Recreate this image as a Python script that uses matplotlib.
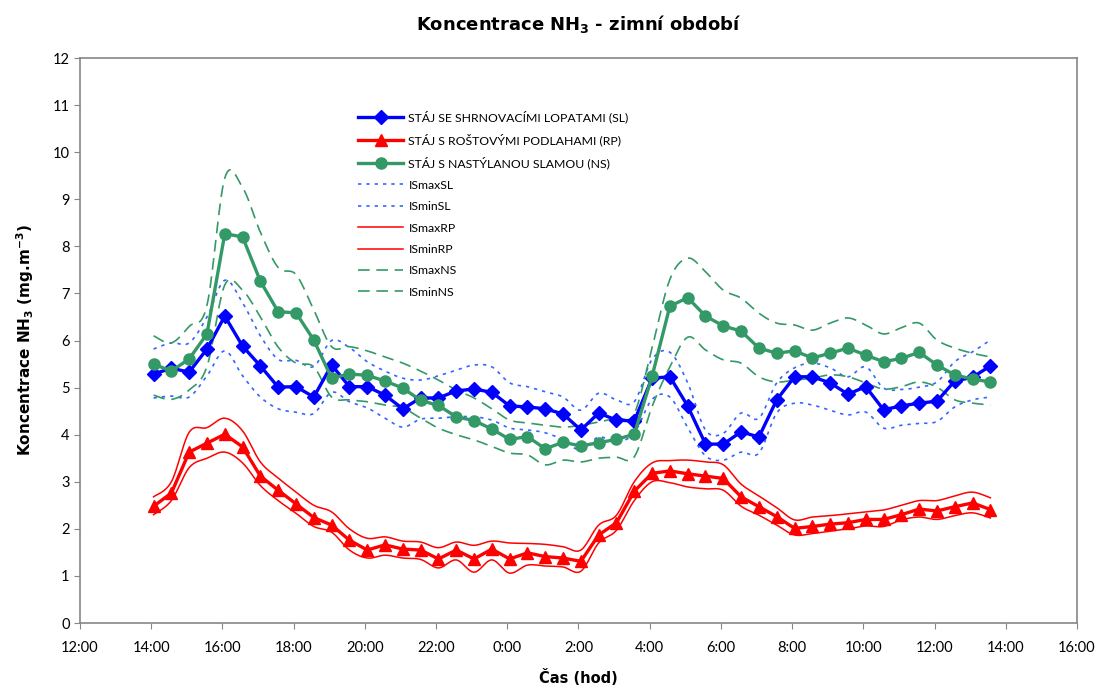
import numpy as np
import matplotlib
matplotlib.use("Agg")
import matplotlib.pyplot as plt
from matplotlib.ticker import FixedLocator, FuncFormatter

plt.rcParams["font.family"] = ["Lato", "DejaVu Sans"]
plt.rcParams["mathtext.fontset"] = "dejavusans"

# čas měření (půlhodinové intervaly, přes půlnoc do druhého dne)
casy = ["14:04", "14:34", "15:04", "15:34", "16:04", "16:34", "17:04", "17:34",
        "18:04", "18:34", "19:04", "19:34", "20:04", "20:34", "21:04", "21:34",
        "22:04", "22:34", "23:04", "23:34", "0:04", "0:34", "1:04", "1:34",
        "2:04", "2:34", "3:04", "3:34", "4:04", "4:34", "5:04", "5:34",
        "6:04", "6:34", "7:04", "7:34", "8:04", "8:34", "9:04", "9:34",
        "10:04", "10:34", "11:04", "11:34", "12:04", "12:34", "13:04", "13:34"]

# stáj se shrnovacími lopatami
SL = [5.29, 5.41, 5.33, 5.82, 6.52, 5.88, 5.46, 5.01, 5.02, 4.80, 5.48, 5.02,
      5.02, 4.84, 4.55, 4.78, 4.78, 4.93, 4.97, 4.90, 4.61, 4.59, 4.55, 4.44,
      4.10, 4.46, 4.31, 4.29, 5.20, 5.23, 4.61, 3.80, 3.80, 4.06, 3.95, 4.74,
      5.23, 5.23, 5.10, 4.86, 5.02, 4.53, 4.61, 4.67, 4.71, 5.14, 5.22, 5.46]
ISmaxSL = [5.82, 5.95, 5.95, 6.50, 7.28, 6.80, 6.10, 5.60, 5.58, 5.45, 6.00, 5.85,
           5.55, 5.35, 5.20, 5.16, 5.25, 5.37, 5.48, 5.44, 5.10, 5.02, 4.91, 4.80,
           4.52, 4.88, 4.74, 4.70, 5.60, 5.75, 5.10, 4.10, 4.03, 4.46, 4.35, 5.10,
           5.42, 5.52, 5.42, 5.23, 5.44, 4.99, 4.96, 5.01, 5.12, 5.55, 5.76, 6.01]
ISminSL = [4.78, 4.82, 4.80, 5.25, 5.78, 5.25, 4.80, 4.55, 4.48, 4.45, 4.90, 4.70,
           4.57, 4.35, 4.16, 4.33, 4.35, 4.38, 4.38, 4.31, 4.14, 4.10, 4.04, 3.89,
           3.67, 3.95, 3.84, 4.04, 4.75, 4.80, 4.15, 3.55, 3.46, 3.63, 3.61, 4.46,
           4.67, 4.63, 4.52, 4.42, 4.48, 4.14, 4.20, 4.24, 4.28, 4.59, 4.74, 4.80]

# stáj s roštovými podlahami
RP = [2.48, 2.76, 3.63, 3.82, 4.01, 3.74, 3.12, 2.82, 2.53, 2.24, 2.08, 1.76,
      1.55, 1.66, 1.57, 1.55, 1.36, 1.55, 1.36, 1.57, 1.36, 1.49, 1.41, 1.38,
      1.31, 1.87, 2.13, 2.80, 3.18, 3.23, 3.17, 3.12, 3.07, 2.68, 2.47, 2.26,
      2.01, 2.05, 2.10, 2.13, 2.20, 2.20, 2.30, 2.42, 2.38, 2.47, 2.55, 2.41]
ISmaxRP = [2.68, 3.00, 4.05, 4.15, 4.35, 4.08, 3.42, 3.08, 2.78, 2.50, 2.36, 2.00,
           1.80, 1.83, 1.74, 1.72, 1.60, 1.72, 1.65, 1.74, 1.70, 1.69, 1.67, 1.62,
           1.55, 2.08, 2.29, 3.00, 3.40, 3.45, 3.46, 3.42, 3.36, 2.95, 2.70, 2.45,
           2.19, 2.25, 2.28, 2.32, 2.36, 2.40, 2.50, 2.60, 2.60, 2.70, 2.78, 2.66]
ISminRP = [2.30, 2.60, 3.30, 3.50, 3.63, 3.40, 2.92, 2.60, 2.33, 2.05, 1.93, 1.55,
           1.38, 1.44, 1.38, 1.35, 1.17, 1.34, 1.08, 1.34, 1.06, 1.23, 1.21, 1.19,
           1.10, 1.70, 1.97, 2.60, 3.00, 2.98, 2.89, 2.85, 2.82, 2.48, 2.29, 2.08,
           1.87, 1.90, 1.95, 2.00, 2.06, 2.05, 2.19, 2.25, 2.20, 2.28, 2.34, 2.23]

# stáj s nastýlanou slamou
NS = [5.50, 5.35, 5.61, 6.14, 8.27, 8.20, 7.26, 6.61, 6.59, 6.01, 5.20, 5.29,
      5.26, 5.14, 4.99, 4.73, 4.62, 4.38, 4.30, 4.12, 3.90, 3.96, 3.70, 3.84,
      3.76, 3.83, 3.90, 4.01, 5.24, 6.73, 6.91, 6.52, 6.31, 6.20, 5.84, 5.73,
      5.78, 5.63, 5.73, 5.84, 5.69, 5.55, 5.62, 5.75, 5.48, 5.27, 5.18, 5.12]
ISmaxNS = [6.10, 5.95, 6.30, 6.75, 9.45, 9.25, 8.30, 7.55, 7.40, 6.65, 5.87, 5.87,
           5.78, 5.65, 5.52, 5.35, 5.16, 4.95, 4.78, 4.55, 4.31, 4.25, 4.20, 4.16,
           4.20, 4.27, 4.35, 4.45, 5.85, 7.30, 7.75, 7.46, 7.07, 6.90, 6.58, 6.37,
           6.33, 6.22, 6.37, 6.48, 6.33, 6.14, 6.27, 6.37, 6.01, 5.84, 5.73, 5.65]
ISminNS = [4.84, 4.75, 4.95, 5.45, 7.18, 7.07, 6.50, 5.86, 5.52, 5.44, 4.80, 4.74,
           4.70, 4.63, 4.57, 4.35, 4.14, 4.00, 3.89, 3.75, 3.61, 3.57, 3.36, 3.46,
           3.42, 3.50, 3.52, 3.53, 4.60, 5.44, 6.07, 5.80, 5.59, 5.52, 5.23, 5.12,
           5.16, 5.20, 5.27, 5.23, 5.10, 4.97, 5.02, 5.12, 5.01, 4.74, 4.67, 4.63]


def na_hodiny(t):
    h, m = (int(v) for v in t.split(":"))
    if h < 14:
        h += 24
    return h + m / 60.0


def vyhlad(x, y, n=16):
    # vyhlazená čára (Catmull-Rom) jako v Excelu
    x = np.asarray(x, float)
    y = np.asarray(y, float)
    px = np.concatenate([[x[0]], x, [x[-1]]])
    py = np.concatenate([[y[0]], y, [y[-1]]])
    t = np.linspace(0, 1, n, endpoint=False)
    xs, ys = [], []
    for i in range(len(x) - 1):
        for p, out in ((px, xs), (py, ys)):
            p0, p1, p2, p3 = p[i:i + 4]
            out.append(0.5 * (2 * p1 + (-p0 + p2) * t
                              + (2 * p0 - 5 * p1 + 4 * p2 - p3) * t ** 2
                              + (-p0 + 3 * p1 - 3 * p2 + p3) * t ** 3))
    xs.append([x[-1]])
    ys.append([y[-1]])
    return np.concatenate(xs), np.concatenate(ys)


x = np.array([na_hodiny(t) for t in casy])

fig = plt.figure(figsize=(11, 6.91), dpi=100)
ax = fig.add_axes([0.0727, 0.0984, 0.9064, 0.8176])

modra = "#0000FF"
cervena = "#FF0000"
zelena = "#339966"

ax.plot(x, SL, color=modra, lw=2.4, marker="D", ms=7, label="STÁJ SE SHRNOVACÍMI LOPATAMI (SL)", zorder=5)
ax.plot(x, RP, color=cervena, lw=2.4, marker="^", ms=8, label="STÁJ S ROŠTOVÝMI PODLAHAMI (RP)", zorder=5)
ax.plot(x, NS, color=zelena, lw=2.4, marker="o", ms=8, label="STÁJ S NASTÝLANOU SLAMOU (NS)", zorder=5)

ax.plot(*vyhlad(x, ISmaxSL), color="#3366FF", lw=1.2, ls=(0, (2, 3)), label="ISmaxSL")
ax.plot(*vyhlad(x, ISminSL), color="#3366FF", lw=1.2, ls=(0, (2, 3)), label="ISminSL")
ax.plot(*vyhlad(x, ISmaxRP), color=cervena, lw=1.1, label="ISmaxRP")
ax.plot(*vyhlad(x, ISminRP), color=cervena, lw=1.1, label="ISminRP")
ax.plot(*vyhlad(x, ISmaxNS), color=zelena, lw=1.2, ls=(0, (7, 4)), label="ISmaxNS")
ax.plot(*vyhlad(x, ISminNS), color=zelena, lw=1.2, ls=(0, (7, 4)), label="ISminNS")

ax.set_xlim(12, 40)
ax.set_ylim(0, 12)
ax.xaxis.set_major_locator(FixedLocator(np.arange(12, 41, 2)))
ax.xaxis.set_major_formatter(FuncFormatter(lambda v, p: "%d:00" % (int(round(v)) % 24)))
ax.set_yticks(range(0, 13))
ax.tick_params(axis="both", labelsize=10.5, direction="out", length=4, color="#868686")
ax.tick_params(axis="x", pad=9)
for s in ax.spines.values():
    s.set_color("#868686")
    s.set_linewidth(1.2)

nadpis = dict(family="DejaVu Sans", fontweight="bold")
ax.set_title(r"Koncentrace NH$_\mathbf{3}$ - zimní období", fontsize=13, pad=20, **nadpis)
ax.set_xlabel("Čas (hod)", fontsize=10.5, labelpad=10, **nadpis)
ax.set_ylabel(r"Koncentrace NH$_\mathbf{3}$ (mg.m$^\mathbf{-3}$)", fontsize=11, labelpad=12, **nadpis)

ax.legend(loc="upper left", bbox_to_anchor=(0.273, 0.918), frameon=False, fontsize=8.8,
          handlelength=3.7, handletextpad=0.4, labelspacing=0.85, borderpad=0)

fig.savefig("out.png", dpi=100)
